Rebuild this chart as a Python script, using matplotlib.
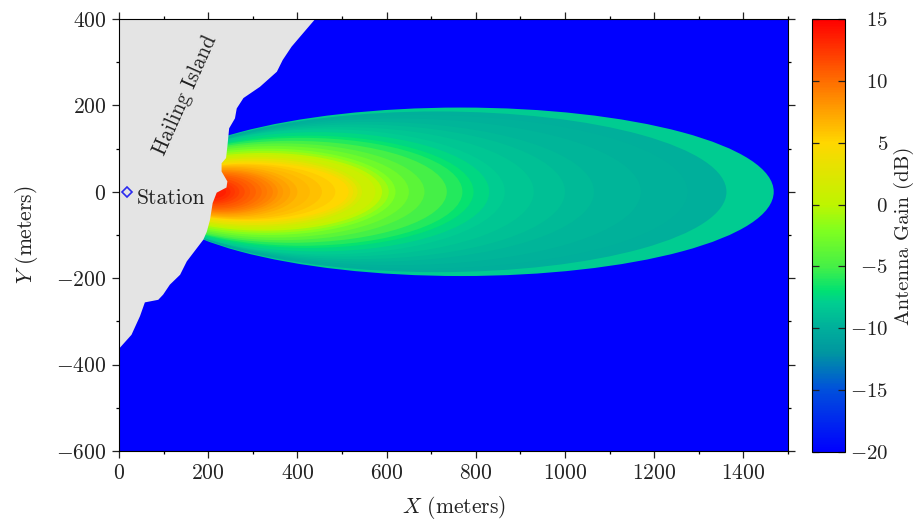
import numpy as np
import matplotlib
matplotlib.use("Agg")
import matplotlib.pyplot as plt
from matplotlib.colors import LinearSegmentedColormap, Normalize
from matplotlib.cm import ScalarMappable
from matplotlib.patches import Ellipse, Polygon
from matplotlib.ticker import MultipleLocator

plt.rcParams['font.family'] = ['cmr10', 'DejaVu Serif']
plt.rcParams['mathtext.fontset'] = 'cm'
plt.rcParams['axes.unicode_minus'] = False
plt.rcParams['axes.formatter.use_mathtext'] = True

# gain contours, outermost first
contour_gain = [-8, -10, -9.8, -9.5, -9.2, -8.9, -8.5, -8, -7.5, -6.8, -6, -5, -4, -3, -2, -1,
                0, 1, 2, 3, 4, 5, 5.5, 6, 6.5, 7, 7.5, 8, 8.5, 9, 9.5, 10, 10.5, 11, 11.5, 12, 12.5, 13, 13.5]
contour_left = [65, 65, 70, 70, 65, 65, 65, 60, 60, 55, 50, 40, 45, 50, 50, 55,
                60, 65, 70, 70, 75, 80, 85, 90, 95, 100, 105, 110, 115, 120, 125, 130, 135, 140, 145, 150, 155, 160, 170]
contour_right = [1468, 1362, 1275, 1170, 1065, 1000, 930, 865, 830, 795, 770, 735, 685, 650, 620, 605,
                 590, 575, 545, 535, 525, 515, 485, 455, 428, 400, 384, 368, 356, 345, 332, 320, 307, 294, 282, 270, 260, 250, 240]
contour_half = [195, 186, 178, 170, 162, 156, 150, 145, 138, 130, 125, 118, 112, 106, 100, 95,
                90, 86, 81, 77, 72, 68, 65, 63, 60, 58, 55, 52, 50, 47, 45, 42, 39, 36, 32, 28, 25, 22, 16]

# coastline of the island
coast_x = [440, 406, 387, 367, 354, 316, 279, 264, 260, 247, 243, 240, 230, 230, 243, 241, 219, 210,
           204, 197, 189, 152, 137, 114, 99, 88, 58, 47, 28, 2, 0]
coast_y = [400, 359, 336, 305, 278, 243, 217, 193, 170, 147, 105, 78, 66, 47, 24, 10, -2, -26,
           -65, -92, -111, -161, -192, -215, -238, -250, -256, -288, -331, -361, -365]

station_x = [19]
station_y = [0]

cbar_ticks = [-20, -15, -10, -5, 0, 5, 10, 15]

# colour scale
stops = [(-20, (0, 0, 255)), (-15, (0, 80, 220)), (-12, (0, 150, 160)), (-10, (0, 175, 155)),
         (-8, (0, 205, 145)), (-7, (0, 225, 115)), (-5, (70, 240, 70)), (-2, (130, 255, 30)), (0, (190, 245, 0)),
         (5, (255, 215, 0)), (10, (255, 110, 0)), (15, (255, 0, 0))]
cmap = LinearSegmentedColormap.from_list(
    "gain", [((g + 20) / 35, tuple(c / 255 for c in rgb)) for g, rgb in stops], N=256)
norm = Normalize(-20, 15)

fig = plt.figure(figsize=(9.16, 5.22), dpi=100)
ax = fig.add_axes([119 / 916, 1 - 451 / 522, (788 - 119) / 916, (451 - 19) / 522])
cax = fig.add_axes([812 / 916, 1 - 452 / 522, (845 - 812) / 916, (452 - 19) / 522])

ax.set_facecolor(cmap(norm(-20)))
for g, l, r, h in zip(contour_gain, contour_left, contour_right, contour_half):
    ax.add_patch(Ellipse(((l + r) / 2, 0), r - l, 2 * h, facecolor=cmap(norm(g)), edgecolor='none', zorder=1))

# island on top of the field
island = [(0, 400)] + list(zip(coast_x, coast_y))
ax.add_patch(Polygon(island, closed=True, facecolor='#e4e4e4', edgecolor='none', zorder=2))

ax.plot(station_x, station_y, linestyle='none', marker='D', markersize=5, markerfacecolor='none',
        markeredgecolor='#2a2af0', markeredgewidth=1.2, zorder=3)
ax.text(40, -16, "Station", fontsize=15.5, color='#222222', va='center', ha='left', zorder=3)
ax.text(148, 224, "Hailing Island", fontsize=15.2, color='#222222', rotation=66, va='center', ha='center', zorder=3)

ax.set_xlim(0, 1500)
ax.set_ylim(-600, 400)
ax.xaxis.set_major_locator(MultipleLocator(200))
ax.xaxis.set_minor_locator(MultipleLocator(100))
ax.yaxis.set_major_locator(MultipleLocator(200))
ax.yaxis.set_minor_locator(MultipleLocator(100))
ax.tick_params(which='major', direction='out', length=5, width=0.9, top=True, right=True, labelsize=15.5, colors='#222222', pad=4)
ax.tick_params(which='minor', direction='out', length=2.5, width=0.9, top=True, right=True)
ax.set_xlabel(r"$X$ (meters)", fontsize=15.5, color='#222222', labelpad=8)
ax.set_ylabel(r"$Y$ (meters)", fontsize=15.5, color='#222222', labelpad=12)

cb = fig.colorbar(ScalarMappable(norm=norm, cmap=cmap), cax=cax)
cb.set_ticks(cbar_ticks)
cb.ax.tick_params(direction='in', length=5, width=0.9, left=True, right=True, labelsize=15, colors='#222222', pad=31)
for t in cb.ax.get_yticklabels():
    t.set_ha('right')
fig.text(904 / 916, 1 - 236 / 522, "Antenna Gain (dB)", fontsize=15, color='#222222', rotation=90, ha='center', va='center')

fig.savefig("out.png", dpi=100)
